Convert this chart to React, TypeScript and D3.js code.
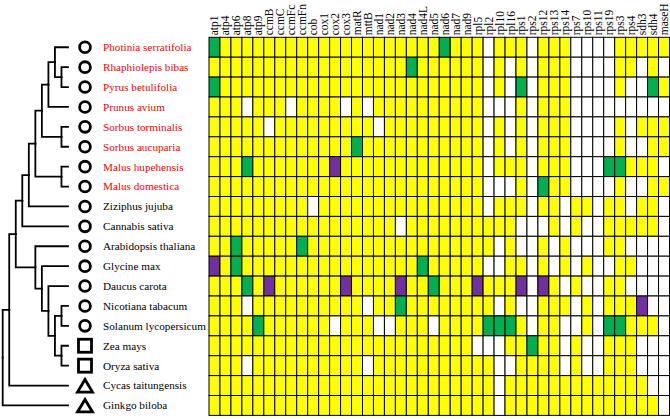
import React from "react";
import * as d3 from "d3";

const genes = ["atp1","atp4","atp6","atp8","atp9","ccmB","ccmC","ccmFc","ccmFn","cob","cox1","cox2","cox3","matR","mttB","nad1","nad2","nad3","nad4","nad4L","nad5","nad6","nad7","nad9","rpl5","rpl2","rpl10","rpl16","rps1","rps2","rps12","rps13","rps14","rps7","rps10","rps11","rps19","rps3","rps4","sdh3","sdh4","maseH"];

const species = ["Photinia serratifolia","Rhaphiolepis bibas","Pyrus betulifolia","Prunus avium","Sorbus torminalis","Sorbus aucuparia","Malus hupehensis","Malus domestica","Ziziphus jujuba","Cannabis sativa","Arabidopsis thaliana","Glycine max","Daucus carota","Nicotiana tabacum","Solanum lycopersicum","Zea mays","Oryza sativa","Cycas taitungensis","Ginkgo biloba"];

const rosaceae = ["Photinia serratifolia","Rhaphiolepis bibas","Pyrus betulifolia","Prunus avium","Sorbus torminalis","Sorbus aucuparia","Malus hupehensis","Malus domestica"];

// c = dicot (circle), s = monocot (square), t = gymnosperm (triangle)
const symbolType = ["c","c","c","c","c","c","c","c","c","c","c","c","c","c","c","s","s","t","t"];

// Y = present, W = absent, G = green state, P = purple state
const geneStates = [
  "GYYYYYYYYYYYYYYYYYYYY" + "GYYYWYYYWYYYWWWWYYYYY",
  "YYYYYYYYYYYYYYYYYYGYY" + "YYYYWYWYWYYYWWWWYYWYW",
  "GYYYYYYYYYYYYYYYYYYYY" + "YYYYWYWGWYYYWWWWYWWGY",
  "YYYWYYYWYYYYWYWYYYYYY" + "YYYYWWWYWYYYWWWWWWWWW",
  "YYYYYWYYYYYYYYYWYYYYY" + "YYYYWYWYWYYYWWWWYWYYY",
  "YYYYYYYYYYYYYGYYYYYYY" + "YYYYWYWYWYYYWWWWYWWYY",
  "YYYGYYYYYYYPYYYYYYYYY" + "YYYYWYYYWYYYWWWGGYYYW",
  "YYYYYYYYYYYYYYYYYYYYY" + "YYYYWWWYWGYYWWWWYWWYY",
  "YYYYYYYYYWYYYYYYYYYYY" + "YYYYWYYYWYYWYYWYYWYYW",
  "YYYYYYYYYYYYYYYYYWYYY" + "YYYYYYYWWWYWYWWYYYYYW",
  "YYGYYYYYGYYYYYYYYYYYY" + "YYYYYWYWWYWYWWWYYWWWW",
  "PYGYYYYYYYYYYYYYYYYGY" + "YYYYWWYYWYWYWYWWYYWWW",
  "YYYGYPYYYYYYPYYYYPYYG" + "YYYPYYYPWPYWYWWYYWWWW",
  "YYYWYYYYYYYYYYWYYGYYY" + "YYYYYWYWWYYYWYWYYYPWW",
  "YYYYGYYYYYYWYYYWWYYYW" + "YYYYGGGYWYYWWYWGGYYYW",
  "YYYYYYYYYYYYYYYYYYYYY" + "YYYWWWYYGYYWYWWYYYWWW",
  "YYYWYYYYYYYYYYWYYYYYY" + "YYYYYWWYYYYWYWWYYYWWW",
  "YYYYYYYYYYYYYYYYYYYYY" + "YYYYYWYYYYYYYYYYYYYWW",
  "YYYYYYYYYYYYYYYYYYYYY" + "YYYYYWYYYYYYYYYYYYYYW",
];

const stateColors: Record<string, string> = { Y: "#FFFF00", W: "#FFFFFF", G: "#00B050", P: "#7030A0" };

// Tree topology (nested pairs)
const cladeA = ["Rhaphiolepis bibas", "Pyrus betulifolia"];
const cladeB = ["Photinia serratifolia", cladeA];
const cladeC = [cladeB, "Prunus avium"];
const cladeSorbus = ["Sorbus torminalis", "Sorbus aucuparia"];
const cladeE = [cladeC, cladeSorbus];
const cladeMalus = ["Malus hupehensis", "Malus domestica"];
const cladeRosaceae = [cladeE, cladeMalus];
const cladeH = [cladeRosaceae, "Ziziphus jujuba"];
const cladeI = [cladeH, "Cannabis sativa"];
const cladeSol = ["Nicotiana tabacum", "Solanum lycopersicum"];
const cladeMono = ["Zea mays", "Oryza sativa"];
const cladeCm = [cladeSol, cladeMono];
const cladeD = ["Daucus carota", cladeCm];
const cladeEu = ["Glycine max", cladeD];
const cladeF = ["Arabidopsis thaliana", cladeEu];
const cladeAngio = [cladeI, cladeF];
const cladeK = [cladeAngio, "Cycas taitungensis"];
const treeTopology = [cladeK, "Ginkgo biloba"];

const W = 670, H = 419;
const gridLeft = 209, gridRight = 669.5, gridTop = 37.3, gridBottom = 415.4;
const treeLeft = 2.7, treeRight = 68;
const symX = 85, labelX = 103;
const FONT = "'Liberation Serif', 'Times New Roman', serif";

export default function App() {
  const x = d3.scaleBand<string>().domain(genes).range([gridLeft, gridRight]);
  const y = d3.scaleBand<string>().domain(species).range([gridTop, gridBottom]);

  const root = d3.hierarchy<any>(treeTopology, (d: any) => (Array.isArray(d) ? d : null));
  d3.cluster<any>().size([gridBottom - gridTop, treeRight - treeLeft]).separation(() => 1)(root);
  const links = root.links();

  const cw = x.bandwidth();
  const ch = y.bandwidth();

  return (
    <svg width={W} height={H} style={{ position: "absolute", left: 0, top: 0, background: "#fff" }}>
      <rect x={0} y={0} width={W} height={H} fill="#fff" />
      {/* tree */}
      <g fill="none" stroke="#000" strokeWidth={1.8} strokeLinecap="square">
        {links.map((l: any, i: number) => (
          <path
            key={i}
            d={`M${treeLeft + l.target.y},${gridTop + l.target.x}H${treeLeft + l.source.y}V${gridTop + l.source.x}`}
          />
        ))}
      </g>
      {/* symbols */}
      <g fill="none" stroke="#000" strokeWidth={2.8}>
        {species.map((s, i) => {
          const cy = (y(s) as number) + ch / 2;
          const t = symbolType[i];
          if (t === "c") return <circle key={s} cx={symX} cy={cy} r={5.4} />;
          if (t === "s") return <rect key={s} x={symX - 6.5} y={cy - 6.5} width={13} height={13} />;
          return <path key={s} d={`M${symX},${cy - 6}L${symX + 7.5},${cy + 6.5}L${symX - 7.5},${cy + 6.5}Z`} strokeLinejoin="miter" />;
        })}
      </g>
      {/* species labels */}
      <g fontFamily={FONT} fontSize={11.2}>
        {species.map((s) => (
          <text
            key={s}
            x={labelX}
            y={(y(s) as number) + ch / 2}
            dy="0.35em"
            fill={rosaceae.includes(s) ? "#FF0000" : "#000"}
          >
            {s}
          </text>
        ))}
      </g>
      {/* heatmap */}
      <g stroke="#000" strokeWidth={1}>
        {species.map((s, r) =>
          genes.map((g, c) => (
            <rect
              key={s + g}
              x={x(g)}
              y={y(s)}
              width={cw}
              height={ch}
              fill={stateColors[geneStates[r][c]]}
            />
          ))
        )}
      </g>
      {/* gene labels */}
      <g fontFamily={FONT} fontSize={11.5}>
        {genes.map((g) => {
          const cx = (x(g) as number) + cw / 2 + 4;
          const cy = gridTop - 2;
          return (
            <text key={g} transform={`translate(${cx},${cy}) rotate(-90)`} x={0} y={0}>
              {g}
            </text>
          );
        })}
      </g>
    </svg>
  );
}
